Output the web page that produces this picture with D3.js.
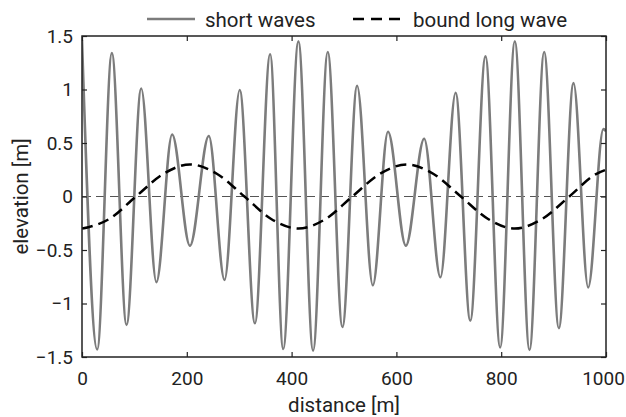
<!DOCTYPE html>
<html>
<head>
<meta charset="utf-8">
<script src="https://cdn.jsdelivr.net/npm/d3@7"></script>
<style>
  body { margin: 0; background: #fff; }
  text { font-family: Roboto, "Noto Sans", sans-serif; fill: #222; }
</style>
</head>
<body>
<div id="chart"></div>
<script>
// short waves: peaks and troughs [distance m, elevation m]
const shortX = [0, 29, 57, 85, 113, 142, 172, 206, 242, 272, 301, 330, 359, 384, 413, 441, 469, 497,
                525, 555, 584, 618, 653, 684, 713, 741, 770, 798, 826, 854, 882, 910, 938, 966, 995, 1000];
const shortY = [1.46, -1.43, 1.34, -1.20, 1.01, -0.80, 0.58, -0.46, 0.565, -0.78, 0.995, -1.185, 1.33, -1.425,
                1.45, -1.44, 1.35, -1.22, 1.035, -0.83, 0.605, -0.46, 0.54, -0.755, 0.97, -1.16, 1.31, -1.41,
                1.45, -1.435, 1.35, -1.23, 1.06, -0.85, 0.63, 0.61];

// bound long wave
const longX = [0, 52, 103, 155, 206, 258, 310, 361, 413, 465, 516, 568, 620, 671, 723, 775, 826, 878, 930, 981, 1000];
const longY = [-0.3, -0.21, 0, 0.21, 0.3, 0.21, 0, -0.21, -0.3, -0.21, 0, 0.21, 0.3, 0.21, 0, -0.21, -0.3, -0.21, 0, 0.21, 0.25];

const xTicks = [0, 200, 400, 600, 800, 1000];
const yTicks = [-1.5, -1, -0.5, 0, 0.5, 1, 1.5];

const W = 626, H = 417;
const mLeft = 82, mRight = 606, mTop = 36, mBottom = 357;

const svg = d3.select("#chart").append("svg")
    .attr("width", W)
    .attr("height", H);

const x = d3.scaleLinear().domain([0, 1000]).range([mLeft, mRight]);
const y = d3.scaleLinear().domain([-1.5, 1.5]).range([mBottom, mTop]);

svg.append("defs").append("clipPath")
    .attr("id", "plot")
    .append("rect")
    .attr("x", mLeft).attr("y", mTop)
    .attr("width", mRight - mLeft).attr("height", mBottom - mTop);

// zero line
svg.append("line")
    .attr("x1", mLeft).attr("x2", mRight)
    .attr("y1", y(0)).attr("y2", y(0))
    .attr("stroke", "#555")
    .attr("stroke-width", 1)
    .attr("stroke-dasharray", "9,5");

const line = d3.line()
    .x(d => x(d[0]))
    .y(d => y(d[1]))
    .curve(d3.curveMonotoneX);

const shortData = shortX.map((v, i) => [v, shortY[i]]);
const longData = longX.map((v, i) => [v, longY[i]]);

const g = svg.append("g").attr("clip-path", "url(#plot)");

g.append("path")
    .datum(shortData)
    .attr("d", line)
    .attr("fill", "none")
    .attr("stroke", "#7c7c7c")
    .attr("stroke-width", 2.6);

g.append("path")
    .datum(longData)
    .attr("d", line)
    .attr("fill", "none")
    .attr("stroke", "#000")
    .attr("stroke-width", 2.5)
    .attr("stroke-dasharray", "11,6");

// axes, ticks inward on all four sides
const tick = 5;
svg.append("g")
    .attr("transform", `translate(0,${mBottom})`)
    .call(d3.axisBottom(x).tickValues(xTicks).tickSizeInner(-tick).tickSizeOuter(0).tickPadding(15).tickFormat(d3.format("d")))
    .call(a => a.selectAll("text").attr("font-size", 19).attr("fill", "#222"))
    .call(a => a.selectAll("text").filter(d => d === 1000).attr("dx", -3));
svg.append("g")
    .attr("transform", `translate(0,${mTop})`)
    .call(d3.axisTop(x).tickValues(xTicks).tickSizeInner(-tick).tickSizeOuter(0).tickFormat(""));
svg.append("g")
    .attr("transform", `translate(${mLeft},0)`)
    .call(d3.axisLeft(y).tickValues(yTicks).tickSizeInner(-tick).tickSizeOuter(0).tickPadding(9).tickFormat(d3.format("")))
    .call(a => a.selectAll("text").attr("font-size", 19).attr("fill", "#222"));
svg.append("g")
    .attr("transform", `translate(${mRight},0)`)
    .call(d3.axisRight(y).tickValues(yTicks).tickSizeInner(-tick).tickSizeOuter(0).tickFormat(""));

svg.selectAll(".domain").remove();
svg.selectAll(".tick line").attr("stroke", "#222").attr("stroke-width", 1.2);

svg.append("rect")
    .attr("x", mLeft).attr("y", mTop)
    .attr("width", mRight - mLeft).attr("height", mBottom - mTop)
    .attr("fill", "none")
    .attr("stroke", "#222")
    .attr("stroke-width", 1.5);

// axis labels
svg.append("text")
    .attr("x", (mLeft + mRight) / 2).attr("y", 412)
    .attr("text-anchor", "middle")
    .attr("font-size", 20.5)
    .text("distance [m]");

svg.append("text")
    .attr("transform", `translate(28,${(mTop + mBottom) / 2}) rotate(-90)`)
    .attr("text-anchor", "middle")
    .attr("font-size", 20.5)
    .text("elevation [m]");

// legend
const legend = svg.append("g");
legend.append("line")
    .attr("x1", 147).attr("x2", 195).attr("y1", 19).attr("y2", 19)
    .attr("stroke", "#7c7c7c").attr("stroke-width", 2.6);
legend.append("text")
    .attr("x", 205).attr("y", 26.5)
    .attr("font-size", 20.5)
    .text("short waves");
legend.append("line")
    .attr("x1", 353).attr("x2", 400).attr("y1", 19).attr("y2", 19)
    .attr("stroke", "#000").attr("stroke-width", 2.5)
    .attr("stroke-dasharray", "11,7");
legend.append("text")
    .attr("x", 413).attr("y", 26.5)
    .attr("font-size", 20.5)
    .text("bound long wave");
</script>
</body>
</html>
